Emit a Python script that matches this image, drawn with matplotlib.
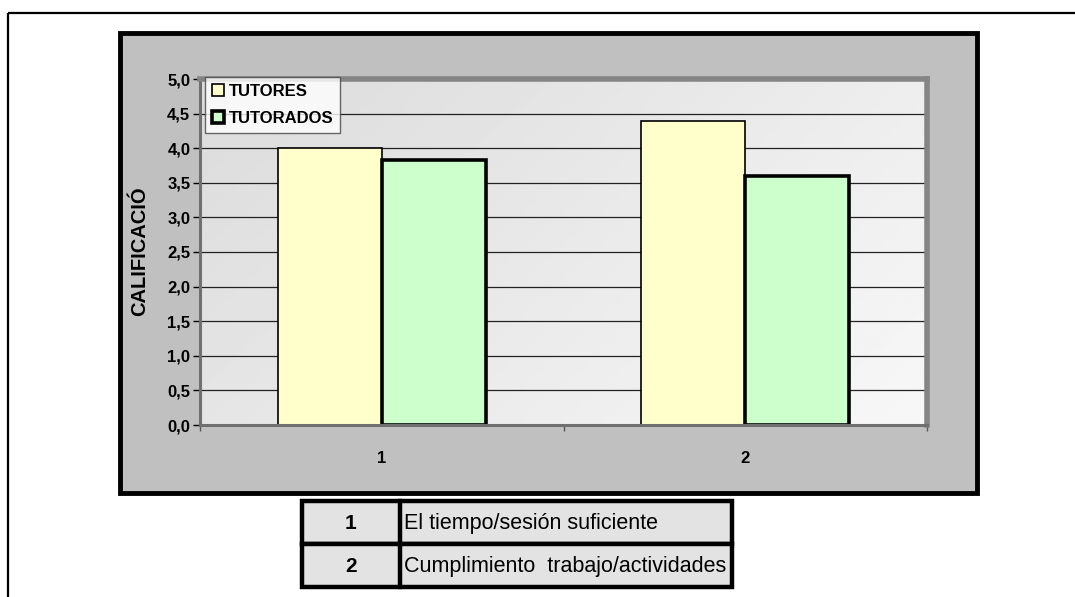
import numpy as np
import matplotlib
matplotlib.use("Agg")
import matplotlib.pyplot as plt
from matplotlib.patches import Rectangle
from matplotlib.transforms import Bbox, TransformedBbox

plt.rcParams['font.family'] = ['Liberation Sans', 'DejaVu Sans']

# datos
categorias = [1, 2]
tutores = [4.0, 4.4]
tutorados = [3.83, 3.6]
series = ['TUTORES', 'TUTORADOS']
yticks = [0.0, 0.5, 1.0, 1.5, 2.0, 2.5, 3.0, 3.5, 4.0, 4.5, 5.0]
ytick_labels = ['0,0', '0,5', '1,0', '1,5', '2,0', '2,5', '3,0', '3,5', '4,0', '4,5', '5,0']
tabla_num = ['1', '2']
tabla_txt = ['El tiempo/sesión suficiente', 'Cumplimiento  trabajo/actividades']

W, H = 1075, 597
fig = plt.figure(figsize=(W / 100, H / 100), dpi=100)


def caja(x0, y0, x1, y1):
    # pixeles (desde arriba) -> fraccion de figura
    return [x0 / W, 1 - y1 / H, (x1 - x0) / W, (y1 - y0) / H]


# capa de fondo en pixeles
bg = fig.add_axes([0, 0, 1, 1], zorder=0)
bg.set_xlim(0, W)
bg.set_ylim(H, 0)
bg.axis('off')

# marco exterior
bg.add_patch(Rectangle((8, 13), 1200, 700, fill=False, ec='black', lw=1.6))
# area del grafico
bg.add_patch(Rectangle((120, 33), 857, 460, fc='#C0C0C0', ec='black', lw=3.5))

# tabla
tx0, tx1, tcol = 302, 732, 400
ty = [501, 544, 587]
for i in range(len(tabla_num)):
    bg.add_patch(Rectangle((tx0, ty[i]), tx1 - tx0, ty[i + 1] - ty[i],
                           fc='#E3E3E3', ec='black', lw=3.2))
    bg.plot([tcol, tcol], [ty[i], ty[i + 1]], color='black', lw=3.2)
    yc = (ty[i] + ty[i + 1]) / 2 + 1
    bg.text((tx0 + tcol) / 2, yc, tabla_num[i], ha='center', va='center',
            fontsize=15, fontweight='bold')
    bg.text(tcol + 4, yc, tabla_txt[i], ha='left', va='center', fontsize=15.5)

# grafico
ax = fig.add_axes(caja(200, 79, 927, 425), zorder=1)
ax.set_xlim(0.5, 2.5)
ax.set_ylim(0, 5)

# degradado del area de trazado
gx, gy = np.meshgrid(np.linspace(0, 1, 200), np.linspace(0, 1, 200))
grad = 0.86 + 0.11 * (0.65 * gx + 0.35 * gy)
ax.imshow(grad, extent=(0.5, 2.5, 0, 5), origin='upper', aspect='auto',
          cmap='gray', vmin=0, vmax=1, zorder=0)

for v in yticks[1:-1]:
    ax.axhline(v, color='#222222', lw=0.9, zorder=1)

x = np.array(categorias)
bw = 0.286
ax.bar(x - bw / 2, tutores, bw, color='#FFFFCC', edgecolor='black', lw=1.2,
       label=series[0], zorder=2)
ax.bar(x + bw / 2, tutorados, bw, color='#CCFFCC', edgecolor='black', lw=2.6,
       label=series[1], zorder=2)

for s in ['top', 'right']:
    ax.spines[s].set_color('#858585')
    ax.spines[s].set_linewidth(4)
for s in ['left', 'bottom']:
    ax.spines[s].set_color('#707070')
    ax.spines[s].set_linewidth(2.2)

ax.set_yticks(yticks)
ax.set_yticklabels(ytick_labels, fontsize=12, fontweight='bold')
ax.tick_params(axis='y', direction='out', length=5, width=1, color='black', pad=2)

ax.set_xticks([0.5, 1.5, 2.5])
ax.set_xticklabels([])
ax.set_xticks(categorias, minor=True)
ax.set_xticklabels([str(c) for c in categorias], minor=True, fontsize=12,
                   fontweight='bold')
ax.tick_params(axis='x', which='major', direction='out', length=4, width=1,
               color='#555555')
ax.tick_params(axis='x', which='minor', length=0, pad=19)

leg = ax.legend(loc='upper left', bbox_to_anchor=(205 / W, 1 - 77 / H),
                bbox_transform=fig.transFigure, frameon=True, fancybox=False,
                borderpad=0.4, labelspacing=0.75, handlelength=0.75,
                handleheight=0.75, handletextpad=0.3, borderaxespad=0,
                prop={'weight': 'bold', 'size': 12})
leg.get_frame().set_edgecolor('#444444')
leg.get_frame().set_linewidth(1.0)
leg.set_zorder(5)

# etiqueta del eje y (recortada como en el original)
t = fig.text(140 / W, 1 - 316 / H, 'CALIFICACIÓN', rotation=90, ha='center',
             va='bottom', fontsize=14.5, fontweight='bold')
t.set_clip_box(TransformedBbox(Bbox([[0, 0], [1, 1 - 188 / H]]), fig.transFigure))
t.set_clip_on(True)

plt.savefig('out.png', dpi=100)
